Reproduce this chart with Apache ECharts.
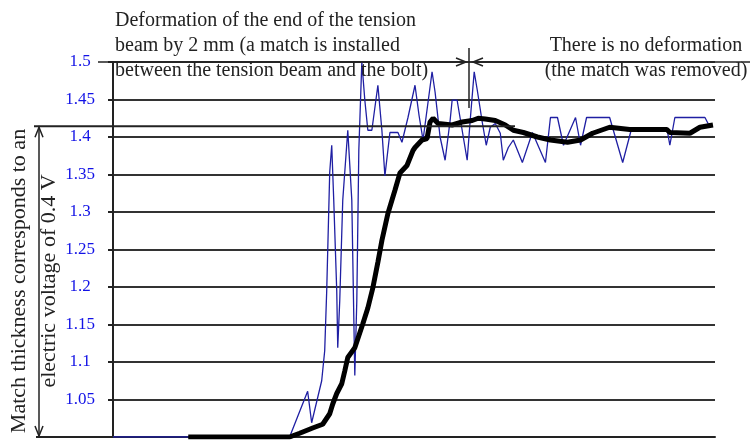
<!DOCTYPE html>
<html>
<head>
<meta charset="utf-8">
<script src="https://cdn.jsdelivr.net/npm/echarts@6/dist/echarts.min.js"></script>
<style>
html,body{margin:0;padding:0;background:#fff;}
#chart{width:750px;height:443px;}
</style>
</head>
<body>
<div id="chart"></div>
<script>
// time axis in arbitrary seconds, 0..60
var blackTime = [7.5,17.6,18.6,19.9,20.9,21.6,21.9,22.3,22.8,23.1,23.4,24.1,24.4,24.9,25.4,25.9,26.4,26.8,27.4,28.1,28.6,29.3,29.9,30.1,30.8,31.3,31.6,31.9,32.4,33.8,34.8,35.8,36.4,37.1,38.1,39.1,39.9,40.9,42.3,43.6,45.3,46.6,47.8,49.5,51.5,55.2,55.5,57.5,58.5,59.8];
var blackVal = [1.0,1.0,1.005,1.012,1.017,1.031,1.044,1.058,1.071,1.088,1.106,1.119,1.131,1.151,1.172,1.199,1.233,1.262,1.298,1.329,1.352,1.362,1.382,1.386,1.396,1.398,1.42,1.425,1.418,1.416,1.42,1.422,1.425,1.424,1.422,1.416,1.409,1.406,1.4,1.396,1.393,1.396,1.405,1.413,1.41,1.41,1.406,1.405,1.413,1.416];

var blueTime = [0,17.6,19.4,19.8,20.8,21.1,21.3,21.6,21.8,22.0,22.3,22.4,22.6,22.9,23.4,23.8,24.1,24.3,24.5,24.8,25.1,25.4,25.8,26.4,26.8,27.1,27.6,28.4,28.8,29.4,30.1,30.5,30.9,31.8,32.1,32.6,33.1,33.6,33.8,34.3,34.6,35.3,35.6,36.0,36.3,36.8,37.2,37.6,38.1,38.6,38.9,39.4,39.9,40.8,41.8,43.1,43.6,44.3,44.9,46.1,46.6,47.2,49.5,50.8,51.7,55.2,55.5,56.0,59.0,59.5];
var blueVal = [1.0,1.0,1.061,1.019,1.075,1.115,1.195,1.353,1.389,1.316,1.195,1.119,1.182,1.316,1.409,1.316,1.082,1.182,1.382,1.5,1.449,1.409,1.409,1.469,1.409,1.348,1.406,1.406,1.393,1.426,1.469,1.429,1.396,1.487,1.46,1.4,1.369,1.422,1.449,1.449,1.425,1.369,1.422,1.487,1.463,1.42,1.389,1.413,1.418,1.405,1.369,1.386,1.396,1.366,1.406,1.366,1.426,1.426,1.389,1.426,1.389,1.426,1.426,1.366,1.412,1.412,1.389,1.426,1.426,1.413];

var yMin = 1.0, yMax = 1.5, yStep = 0.05;
var matchLevel = 1.413; // top of the match-thickness dimension

var topLeftText = 'Deformation of the end of the tension\nbeam by 2 mm (a match is installed\nbetween the tension beam and the bolt)';
var topRightText = 'There is no deformation\n(the match was removed)';
var sideText1 = 'Match thickness corresponds to an';
var sideText2 = 'electric voltage of 0.4 V';

function pairs(xs, ys) {
	var out = [];
	for (var i = 0; i < xs.length; i++) out.push([xs[i], ys[i]]);
	return out;
}

var serif = '"Liberation Serif", "DejaVu Serif", serif';
var ink = '#222';
var myChart = echarts.init(document.getElementById('chart'));

myChart.setOption({
	animation: false,
	backgroundColor: '#fff',
	grid: {left: 113, right: 35, top: 62, bottom: 6},
	xAxis: {
		type: 'value', min: 0, max: 60,
		axisLine: {show: true, lineStyle: {color: ink, width: 2}},
		axisTick: {show: false},
		axisLabel: {show: false},
		splitLine: {show: false}
	},
	yAxis: {
		type: 'value', min: yMin, max: yMax, interval: yStep,
		axisLine: {show: true, lineStyle: {color: ink, width: 2}},
		axisTick: {show: true, length: 5, lineStyle: {color: ink, width: 2}},
		axisLabel: {
			showMinLabel: false,
			color: '#1212e6',
			fontFamily: serif,
			fontSize: 17,
			align: 'center',
			margin: 33,
			formatter: function(v) { return String(+v.toFixed(2)); }
		},
		splitLine: {show: true, lineStyle: {color: '#333', width: 2}}
	},
	series: [
		{
			type: 'line',
			data: pairs(blueTime, blueVal),
			showSymbol: false,
			lineStyle: {color: '#1f1fa3', width: 1.3},
			z: 3
		},
		{
			type: 'line',
			data: pairs(blackTime, blackVal),
			showSymbol: false,
			lineStyle: {color: '#000', width: 5},
			z: 4
		}
	]
});

// annotations placed from axis positions
var yTop = myChart.convertToPixel({yAxisIndex: 0}, yMax);
var yBot = myChart.convertToPixel({yAxisIndex: 0}, yMin);
var yMatch = myChart.convertToPixel({yAxisIndex: 0}, matchLevel) - 1;
var xAxis0 = myChart.convertToPixel({xAxisIndex: 0}, 0);
var splitX = 469;
var arrowX = 39;

function seg(x1, y1, x2, y2, w) {
	return {type: 'line', z: 10, shape: {x1: x1, y1: y1, x2: x2, y2: y2}, style: {stroke: ink, lineWidth: w || 1.5}};
}
function head(pts) {
	return {type: 'polyline', z: 10, shape: {points: pts}, style: {stroke: ink, lineWidth: 1.5, fill: null}};
}

myChart.setOption({
	graphic: [
		// top dimension line with split marker
		seg(98, yTop, splitX - 3, yTop),
		head([[splitX - 13, yTop - 4], [splitX - 3, yTop], [splitX - 13, yTop + 4]]),
		seg(splitX + 4, yTop, 750, yTop),
		head([[splitX + 14, yTop - 4], [splitX + 4, yTop], [splitX + 14, yTop + 4]]),
		seg(splitX, 48, splitX, 108),
		// match thickness dimension on the left
		seg(34, yMatch, 515, yMatch, 2),
		seg(36, yBot, xAxis0, yBot, 2),
		seg(arrowX, yMatch + 1, arrowX, yBot - 1),
		head([[arrowX - 4, yMatch + 11], [arrowX, yMatch + 1], [arrowX + 4, yMatch + 11]]),
		head([[arrowX - 4, yBot - 11], [arrowX, yBot - 1], [arrowX + 4, yBot - 11]]),
		{
			type: 'text', z: 11, x: 115, y: 8,
			style: {text: topLeftText, font: '20px ' + serif, fill: ink, lineHeight: 25, align: 'left', verticalAlign: 'top'}
		},
		{
			type: 'text', z: 11, x: 646, y: 33,
			style: {text: topRightText, font: '20px ' + serif, fill: ink, lineHeight: 25, align: 'center', verticalAlign: 'top'}
		},
		{
			type: 'text', z: 11, x: 19, y: 281, rotation: Math.PI / 2,
			style: {text: sideText1, font: '22px ' + serif, fill: ink, align: 'center', verticalAlign: 'middle'}
		},
		{
			type: 'text', z: 11, x: 49, y: 281, rotation: Math.PI / 2,
			style: {text: sideText2, font: '22px ' + serif, fill: ink, align: 'center', verticalAlign: 'middle'}
		}
	]
});

window.addEventListener('resize', function() { myChart.resize(); });
</script>
</body>
</html>
